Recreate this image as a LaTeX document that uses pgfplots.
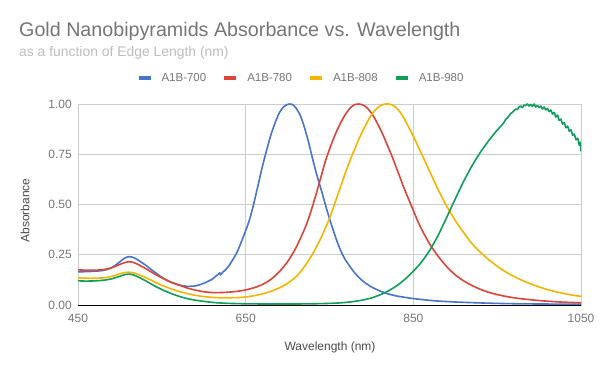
\documentclass[border=0pt]{standalone}
\usepackage{pgfplots}
\pgfplotsset{compat=1.18}
\usepackage{fontspec}
\setmainfont{Liberation Sans}
\definecolor{gridgray}{HTML}{CCCCCC}
\definecolor{tickgray}{HTML}{757575}
\definecolor{subgray}{HTML}{BDBDBD}
\definecolor{labgray}{HTML}{4A4A4A}
\definecolor{cblue}{HTML}{4775C9}
\definecolor{cred}{HTML}{DB4437}
\definecolor{cyellow}{HTML}{F4B400}
\definecolor{cgreen}{HTML}{0F9D58}

\pgfplotstableread{
x y
450 0.165
460 0.166
470 0.168
480 0.172
490 0.185
500 0.215
505 0.232
510 0.240
515 0.238
520 0.228
530 0.200
540 0.168
550 0.138
560 0.115
570 0.100
580 0.093
590 0.095
600 0.108
610 0.128
614 0.142
617 0.152
619 0.160
620 0.150
622 0.160
625 0.172
630 0.195
640 0.265
650 0.370
655 0.430
660 0.510
665 0.600
670 0.690
675 0.770
680 0.845
685 0.905
690 0.955
695 0.985
700 0.998
703 1.000
706 0.997
710 0.980
715 0.945
720 0.885
725 0.810
730 0.725
735 0.645
740 0.575
745 0.500
750 0.430
755 0.365
760 0.305
765 0.255
770 0.218
780 0.160
790 0.118
800 0.090
810 0.070
820 0.055
830 0.045
840 0.038
850 0.032
875 0.021
900 0.015
925 0.011
950 0.008
975 0.006
1000 0.005
1050 0.004
}\dataA

\pgfplotstableread{
x y
450 0.175
460 0.173
470 0.173
480 0.176
490 0.185
500 0.202
505 0.210
510 0.215
515 0.213
520 0.205
530 0.183
540 0.158
550 0.135
560 0.115
570 0.100
580 0.085
590 0.074
600 0.066
610 0.062
620 0.062
630 0.064
640 0.068
650 0.075
660 0.086
670 0.102
680 0.127
690 0.165
700 0.215
710 0.285
720 0.375
725 0.430
730 0.495
735 0.565
740 0.640
745 0.715
750 0.775
755 0.830
760 0.878
765 0.920
770 0.955
775 0.982
780 0.997
785 1.000
790 0.995
795 0.980
800 0.955
805 0.920
810 0.880
815 0.835
820 0.785
825 0.735
830 0.680
835 0.625
840 0.570
845 0.520
850 0.470
855 0.420
860 0.375
870 0.300
880 0.240
890 0.190
900 0.150
910 0.120
920 0.097
930 0.078
940 0.063
950 0.052
960 0.043
975 0.033
1000 0.022
1025 0.015
1050 0.011
}\dataB

\pgfplotstableread{
x y
450 0.135
460 0.133
470 0.133
480 0.135
490 0.142
500 0.155
505 0.161
510 0.163
515 0.161
520 0.155
530 0.138
540 0.118
550 0.098
560 0.082
570 0.068
580 0.057
590 0.048
600 0.042
610 0.038
620 0.036
630 0.036
640 0.037
650 0.040
660 0.046
670 0.055
680 0.068
690 0.085
700 0.108
710 0.140
720 0.190
730 0.255
740 0.335
750 0.430
755 0.490
760 0.550
765 0.610
770 0.670
775 0.725
780 0.775
785 0.825
790 0.870
795 0.910
800 0.945
805 0.972
810 0.990
815 0.999
820 1.000
825 0.995
830 0.980
835 0.955
840 0.920
845 0.880
850 0.840
855 0.795
860 0.750
865 0.705
870 0.660
875 0.615
880 0.570
885 0.530
890 0.490
900 0.420
910 0.360
920 0.305
930 0.262
940 0.225
950 0.193
960 0.165
970 0.142
980 0.122
990 0.105
1000 0.090
1010 0.077
1020 0.066
1030 0.057
1040 0.049
1050 0.043
}\dataC

\pgfplotstableread{
x y
450 0.120
460 0.119
470 0.120
480 0.123
490 0.130
500 0.143
505 0.150
510 0.154
515 0.151
520 0.143
530 0.122
540 0.098
550 0.077
560 0.059
570 0.044
580 0.032
590 0.024
600 0.018
610 0.013
620 0.010
630 0.008
640 0.007
650 0.006
670 0.005
690 0.005
710 0.005
730 0.006
750 0.008
760 0.010
770 0.013
780 0.018
790 0.025
800 0.035
810 0.050
820 0.070
830 0.095
840 0.128
850 0.168
860 0.215
870 0.275
880 0.350
890 0.438
900 0.528
910 0.615
920 0.693
930 0.760
940 0.818
945 0.845
950 0.870
955 0.893
958 0.908
960 0.922
962 0.930
964 0.940
966 0.952
968 0.958
970 0.966
972 0.975
974 0.972
976 0.985
978 0.990
980 0.982
982 0.995
984 0.992
986 1.000
988 0.990
990 0.998
992 0.988
994 1.000
996 0.985
998 0.993
1000 0.982
1002 0.990
1004 0.975
1006 0.985
1008 0.970
1010 0.978
1012 0.962
1014 0.970
1016 0.950
1018 0.958
1020 0.935
1022 0.945
1024 0.918
1026 0.925
1028 0.900
1030 0.908
1032 0.882
1034 0.890
1036 0.865
1038 0.872
1040 0.845
1042 0.850
1044 0.822
1046 0.830
1048 0.795
1049 0.810
1050 0.765
}\dataD

\begin{document}
\begin{tikzpicture}[x=1bp,y=1bp]
\path[use as bounding box] (0,0) rectangle (600,371);
\node[anchor=base west, inner sep=0pt, font=\fontsize{19.7bp}{22bp}\selectfont, text=tickgray] at (19,335) {Gold Nanobipyramids Absorbance vs. Wavelength};
\node[anchor=base west, inner sep=0pt, font=\fontsize{13.9bp}{16bp}\selectfont, text=subgray] at (19,314.3) {as a function of Edge Length (nm)};
\node[anchor=base, inner sep=0pt, font=\fontsize{12bp}{14bp}\selectfont, text=labgray] at (330,21) {Wavelength (nm)};
\node[rotate=90, anchor=center, inner sep=0pt, font=\fontsize{12bp}{14bp}\selectfont, text=labgray] at (25,160.5) {Absorbance};
\begin{axis}[
  scale only axis, width=503bp, height=201bp,
  at={(78bp,66bp)}, anchor=south west,
  xmin=450, xmax=1050, ymin=0, ymax=1,
  xtick={450,650,850,1050}, ytick={0,0.25,0.5,0.75,1},
  /pgf/number format/assume math mode=true,
  yticklabel style={/pgf/number format/fixed, /pgf/number format/fixed zerofill, /pgf/number format/precision=2, inner sep=0pt, xshift=-6bp},
  xticklabel style={/pgf/number format/1000 sep={}, inner sep=0pt, yshift=-8.5bp},
  ticklabel style={font=\fontsize{12bp}{14bp}\selectfont, text=tickgray},
  major tick length=0pt,
  grid=major, major grid style={draw=gridgray, line width=0.8bp},
  axis line style={draw=gridgray, line width=0.8bp},
  legend columns=4,
  legend style={draw=none, fill=none, at={(0.4414,1.129)}, anchor=center,
    font=\fontsize{11.5bp}{13bp}\selectfont, text=tickgray,
    /tikz/every odd column/.append style={column sep=9bp},
    /tikz/every even column/.append style={column sep=16bp},
    nodes={inner sep=0pt}},
  legend image code/.code={\draw[line width=4bp] (0bp,0bp) -- (12bp,0bp);},
  every axis plot/.append style={line width=1.6bp, line join=round},
]
\draw[black, line width=0.9bp] (axis cs:450,0) -- (axis cs:1050,0);
\addplot[cblue, no markers, smooth, tension=0.4] table {\dataA};
\addlegendentry{A1B-700}
\addplot[cred, no markers, smooth, tension=0.4] table {\dataB};
\addlegendentry{A1B-780}
\addplot[cyellow, no markers, smooth, tension=0.4] table {\dataC};
\addlegendentry{A1B-808}
\addplot[cgreen, no markers, smooth, tension=0.4] table {\dataD};
\addlegendentry{A1B-980}
\end{axis}
\end{tikzpicture}
\end{document}
